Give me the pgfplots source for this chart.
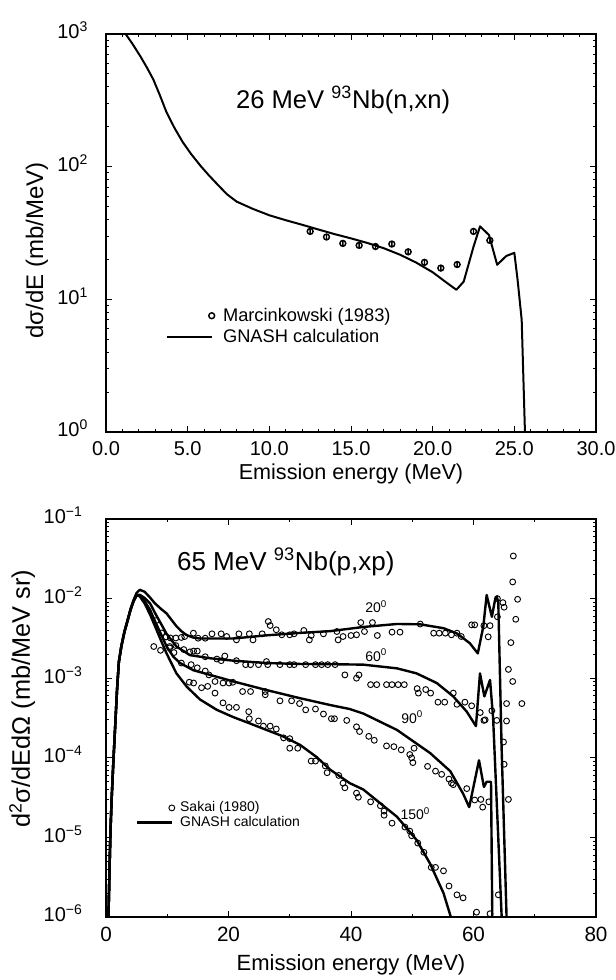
\documentclass[border=0pt]{standalone}
\usepackage{fontspec}
\setmainfont{Liberation Sans}
\usepackage{pgfplots}
\pgfplotsset{compat=1.18}

\newcommand{\fs}[1]{\fontsize{#1}{#1}\selectfont}

% open circle with a short vertical error bar inside
\pgfdeclareplotmark{obar}{%
  \pgfpathcircle{\pgfpointorigin}{\pgfplotmarksize}%
  \pgfpathmoveto{\pgfqpoint{0pt}{-0.8\pgfplotmarksize}}%
  \pgfpathlineto{\pgfqpoint{0pt}{0.8\pgfplotmarksize}}%
  \pgfusepathqstroke}

\begin{document}
\begin{tikzpicture}
\useasboundingbox (0,0) rectangle (462pt,735pt);

% ---------------- 26 MeV neutrons on Nb-93 ----------------
\begin{axis}[
  scale only axis, width=367.5pt, height=298.5pt,
  ymode=log,
  axis line style={line width=1.1pt},
  tick align=inside, xtick pos=both, ytick pos=both,
  major tick length=4.5pt, minor tick length=2.5pt,
  every tick/.style={black, line width=0.7pt},
  legend cell align=left,
  at={(79.5pt,411pt)}, anchor=south west,
  xmin=0, xmax=30, ymin=1, ymax=1000,
  xtick={0,5,10,15,20,25,30},
  xticklabels={0.0,5.0,10.0,15.0,20.0,25.0,30.0},
  minor x tick num=4,
  ytick={1,10,100,1000},
  yticklabels={10\textsuperscript{0},10\textsuperscript{1},10\textsuperscript{2},10\textsuperscript{3}},
  xticklabel style={font=\fs{15}, yshift=-3.5pt},
  yticklabel style={font=\fs{15}, anchor=base east, yshift=-0.36em, xshift=-10pt},
  xlabel={Emission energy (MeV)},
  xlabel style={font=\fs{16.2}, at={(axis description cs:0.5,0)}, anchor=center, yshift=-31.5pt},
  ylabel={dσ/dE (mb/MeV)},
  ylabel style={font=\fs{18}, at={(axis description cs:-0.141,0.456)}, anchor=center},
  legend style={draw=none, fill=none, font=\fs{13.7}, at={(rel axis cs:0.1213,0.3136)},
    anchor=north west, inner sep=0pt, row sep=3.3pt, column sep=4.75pt, nodes={inner sep=0.5pt}},
]
\addplot[only marks, mark=obar, mark size=2.2pt, mark options={line width=1.1pt},
  legend image code/.code={\path[draw=none, fill=none] (0pt,-3pt) rectangle (37pt,3pt);
    \draw[only marks, mark=o, mark size=2.2pt, mark options={line width=1.1pt}] plot coordinates {(33.75pt,0pt)};}]
coordinates {
  (12.5,32.5) (13.5,29.5) (14.5,26.4) (15.5,25.5) (16.5,25.0) (17.5,26.1)
  (18.5,22.8) (19.5,19.0) (20.5,17.2) (21.5,18.3) (22.5,32.5) (23.5,27.8)
};
\addlegendentry{Marcinkowski (1983)}

\addplot[line width=1.5pt, line join=round,
  legend image code/.code={\path[draw=none, fill=none] (0pt,-3pt) rectangle (37pt,3pt);
    \draw[line width=1.5pt] (0pt,0pt) -- (33.75pt,0pt);}]
coordinates {
  (1.2,1000) (1.6,850) (2.1,680) (2.5,560) (2.9,453) (3.3,345) (3.7,258)
  (4.2,195) (4.7,153) (5.2,125) (5.8,101) (6.3,86) (6.8,74) (7.4,62)
  (8.0,54.5) (9.0,48) (10.0,43) (11.0,39.5) (12.0,36.5) (13.0,33.6)
  (14.0,31.0) (15.0,28.8) (16.0,26.6) (17.0,24.3) (18.0,21.7) (19.0,18.9)
  (20.0,16.0) (20.8,13.5) (21.45,11.8) (21.9,13.6) (22.5,24.9) (22.9,35.5)
  (23.45,30.5) (23.95,18.2) (24.5,21.2) (25.0,22.4) (25.2,14) (25.45,7)
  (25.65,1)
};
\addlegendentry{GNASH calculation}

\node[font=\fs{19.2}] at (rel axis cs:0.484,0.834) {26 MeV \textsuperscript{93}Nb(n,xn)};
\end{axis}

% ---------------- 65 MeV protons on Nb-93 ----------------
\begin{axis}[
  scale only axis, width=367.5pt, height=298.5pt,
  ymode=log,
  axis line style={line width=1.1pt},
  tick align=inside, xtick pos=both, ytick pos=both,
  major tick length=4.5pt, minor tick length=2.5pt,
  every tick/.style={black, line width=0.7pt},
  legend cell align=left,
  at={(79.5pt,47.25pt)}, anchor=south west,
  xmin=0, xmax=80, ymin=1e-6, ymax=1e-1,
  xtick={0,20,40,60,80},
  xticklabels={0,20,40,60,80},
  minor x tick num=1,
  ytick={1e-6,1e-5,1e-4,1e-3,1e-2,1e-1},
  yticklabels={10\textsuperscript{−6},10\textsuperscript{−5},10\textsuperscript{−4},10\textsuperscript{−3},10\textsuperscript{−2},10\textsuperscript{−1}},
  xticklabel style={font=\fs{15.5}, yshift=-4pt},
  yticklabel style={font=\fs{15}, anchor=base east, yshift=-0.36em, xshift=-14pt},
  xlabel={Emission energy (MeV)},
  xlabel style={font=\fs{16.5}, at={(axis description cs:0.5,0)}, anchor=center, yshift=-36pt},
  ylabel={d\textsuperscript{2}σ/dEdΩ (mb/MeV sr)},
  ylabel style={font=\fs{19}, at={(axis description cs:-0.171,0.548)}, anchor=center},
  legend style={draw=none, fill=none, font=\fs{10.5}, at={(rel axis cs:0.0599,0.2917)},
    anchor=north west, inner sep=0pt, row sep=0.7pt, column sep=3pt, nodes={inner sep=0.5pt}},
]
\addplot[only marks, mark=o, mark size=2.2pt, mark options={line width=0.7pt},
  legend image code/.code={\path[draw=none, fill=none] (0pt,-3pt) rectangle (29pt,3pt);
    \draw[only marks, mark=o, mark size=2.2pt, mark options={line width=0.7pt}] plot coordinates {(26.25pt,0pt)};}]
table[row sep=\\] {
E y \\
8.2 5.3e-3 \\ 9.1 3.7e-3 \\ 9.8 3.3e-3 \\ 10.5 3.2e-3 \\ 11.4 3.2e-3 \\ 12.3 3.25e-3 \\
12.85 3.34e-3 \\ 14.27 3.68e-3 \\ 15.04 3.18e-3 \\ 16.2 3.18e-3 \\ 17.3 3.61e-3 \\
18.8 3.61e-3 \\ 19.7 3.34e-3 \\ 21.3 3.03e-3 \\ 21.7 3.61e-3 \\ 23.4 3.61e-3 \\
24.0 3.03e-3 \\ 25.5 3.61e-3 \\ 26.5 5.15e-3 \\ 26.8 4.59e-3 \\ 27.8 4.06e-3 \\
28.7 3.51e-3 \\ 30.0 3.51e-3 \\ 30.7 3.61e-3 \\ 32.3 3.98e-3 \\ 33.2 3.03e-3 \\
33.5 3.44e-3 \\ 35.5 3.61e-3 \\ 37.7 3.86e-3 \\ 37.9 3.03e-3 \\ 38.7 3.34e-3 \\
40.0 3.44e-3 \\ 40.9 3.51e-3 \\ 41.6 5.0e-3 \\ 42.2 3.86e-3 \\ 43.5 5.0e-3 \\
44.3 3.44e-3 \\ 46.7 3.79e-3 \\ 48.0 3.79e-3 \\ 51.3 4.79e-3 \\ 53.5 3.68e-3 \\
54.4 3.68e-3 \\ 55.4 3.68e-3 \\ 56.4 3.51e-3 \\ 57.3 3.68e-3 \\ 58.0 3.34e-3 \\
59.7 4.68e-3 \\ 60.2 4.68e-3 \\ 61.7 4.57e-3 \\ 62.4 3.31e-3 \\ 62.7 4.57e-3 \\
63.9 1.0e-2 \\ 63.9 5.9e-3 \\ 64.8 8.9e-3 \\ 65.0 7.8e-3 \\ 66.5 3.43e-2 \\
66.4 1.62e-2 \\ 67.2 9.8e-3 \\ 66.9 5.5e-3 \\ 66.1 2.8e-3 \\ 65.7 1.29e-3 \\
66.4 9.1e-4 \\ 65.4 4.8e-4 \\ 67.9 4.8e-4 \\ 65.4 2.9e-4 \\ 64.9 1.58e-4 \\
65.0 8.3e-5 \\ 65.7 3.0e-5 \\ 64.05 1.9e-6 \\
7.8 2.5e-3 \\ 8.9 2.24e-3 \\ 10.4 2.5e-3 \\ 11.4 2.57e-3 \\ 12.7 2.29e-3 \\
13.7 2.14e-3 \\ 14.3 2.19e-3 \\ 14.9 2.19e-3 \\ 16.2 1.86e-3 \\ 18.1 1.74e-3 \\
18.8 1.66e-3 \\ 19.4 1.9e-3 \\ 21.3 1.66e-3 \\ 22.8 1.48e-3 \\ 23.6 1.48e-3 \\
24.9 1.48e-3 \\ 26.2 1.62e-3 \\ 26.4 1.48e-3 \\ 28.4 1.48e-3 \\ 30.0 1.48e-3 \\
30.7 1.48e-3 \\ 32.6 1.48e-3 \\ 34.2 1.48e-3 \\ 35.2 1.48e-3 \\ 36.2 1.48e-3 \\
37.4 1.48e-3 \\ 39.0 1.1e-3 \\ 40.9 1.0e-3 \\ 41.3 1.1e-3 \\ 43.2 8.3e-4 \\
44.2 8.3e-4 \\ 45.8 8.3e-4 \\ 46.7 8.3e-4 \\ 47.7 8.3e-4 \\ 48.7 8.3e-4 \\
50.8 7.4e-4 \\ 51.0 6.5e-4 \\ 52.2 7.2e-4 \\ 53.0 6.5e-4 \\ 54.2 5.0e-4 \\
55.3 5.0e-4 \\ 56.7 6.5e-4 \\ 57.3 4.7e-4 \\ 58.6 5.0e-4 \\ 59.7 4.5e-4 \\
61.1 3.7e-4 \\ 61.9 3.0e-4 \\ 63.0 3.9e-4 \\ 63.8 2.95e-4 \\ 61.7 2.95e-4 \\
10.4 2.4e-3 \\ 11.1 2.1e-3 \\ 12.3 1.55e-3 \\ 13.9 1.48e-3 \\ 14.9 1.35e-3 \\
16.2 1.23e-3 \\ 16.8 1.1e-3 \\ 17.8 9.1e-4 \\ 19.1 8.7e-4 \\ 20.1 8.7e-4 \\
20.7 8.9e-4 \\ 22.3 6.8e-4 \\ 23.6 6.8e-4 \\ 26.0 6.8e-4 \\ 26.0 6.2e-4 \\
28.4 5.2e-4 \\ 30.3 5.2e-4 \\ 31.6 4.8e-4 \\ 32.6 4.0e-4 \\ 34.2 4.1e-4 \\
35.5 3.55e-4 \\ 36.8 3.1e-4 \\ 37.3 3.1e-4 \\ 39.3 2.95e-4 \\ 40.9 2.45e-4 \\
41.4 2.14e-4 \\ 42.9 1.86e-4 \\ 43.8 1.66e-4 \\ 45.8 1.41e-4 \\ 47.0 1.38e-4 \\
48.2 1.26e-4 \\ 49.6 1.1e-4 \\ 49.9 1.0e-4 \\ 50.3 1.32e-4 \\ 50.1 8.7e-5 \\
52.5 7.8e-5 \\ 53.8 6.8e-5 \\ 54.8 6.2e-5 \\ 56.0 5.4e-5 \\ 56.4 4.8e-5 \\
56.7 4.6e-5 \\ 58.9 4.1e-5 \\ 60.2 2.95e-5 \\ 61.2 3.0e-5 \\ 61.5 2.4e-5 \\
62.5 2.8e-5 \\
13.6 8.9e-4 \\ 14.3 8.7e-4 \\ 15.6 7.6e-4 \\ 16.6 7.9e-4 \\ 17.8 6.5e-4 \\
19.1 4.9e-4 \\ 20.1 4.3e-4 \\ 21.3 4.3e-4 \\ 23.3 3.8e-4 \\ 23.4 3.1e-4 \\
24.9 2.9e-4 \\ 25.7 2.5e-4 \\ 26.8 2.5e-4 \\ 27.8 2.3e-4 \\ 29.0 1.78e-4 \\
30.0 1.74e-4 \\ 30.0 1.32e-4 \\ 31.3 1.32e-4 \\ 33.5 9.1e-5 \\ 34.2 9.1e-5 \\
35.8 7.9e-5 \\ 36.1 6.5e-5 \\ 38.0 6.0e-5 \\ 38.7 4.8e-5 \\ 39.0 4.2e-5 \\
40.9 3.6e-5 \\ 41.2 3.2e-5 \\ 43.2 2.8e-5 \\ 44.8 2.5e-5 \\ 45.4 2.14e-5 \\
45.4 1.9e-5 \\ 46.7 1.51e-5 \\ 48.8 1.35e-5 \\ 49.6 1.2e-5 \\ 49.9 1.05e-5 \\
50.9 8.5e-6 \\ 51.9 6.5e-6 \\ 53.1 4.2e-6 \\ 53.8 4.2e-6 \\ 55.1 3.8e-6 \\
56.0 2.45e-6 \\ 57.3 1.9e-6 \\ 58.3 1.74e-6 \\ 60.5 1.15e-6 \\ 62.7 1.1e-6 \\
};
\addlegendentry{Sakai (1980)}

% 20 degrees
\addplot[line width=1.8pt, line join=round,
  legend image code/.code={\path[draw=none, fill=none] (0pt,-3pt) rectangle (29pt,3pt);
    \draw[line width=1.8pt] (0pt,0pt) -- (26.25pt,0pt);}]
coordinates {
  (0.4,1e-6) (0.55,3.2e-6) (0.7,1e-5) (0.9,2.8e-5) (1.2,8.9e-5) (1.5,2.5e-4)
  (1.8,7.1e-4) (2.1,1.6e-3) (2.5,2.5e-3) (3.0,3.8e-3) (3.5,5.3e-3) (4.0,7.4e-3)
  (4.5,9.6e-3) (5.0,1.18e-2) (5.5,1.29e-2) (6.3,1.22e-2) (7.1,1.05e-2) (8.0,8.7e-3)
  (9.0,7.4e-3) (9.9,6.5e-3) (10.7,5.4e-3) (11.5,4.5e-3) (12.3,3.9e-3) (13.1,3.5e-3)
  (14.2,3.25e-3) (15.3,3.15e-3) (18.0,3.15e-3) (20.7,3.15e-3) (23.5,3.3e-3)
  (26.1,3.45e-3) (31.5,3.7e-3) (36.6,3.9e-3) (42.0,4.4e-3) (47.5,4.8e-3)
  (51.3,4.75e-3) (55.1,4.25e-3) (57.3,3.65e-3) (59.4,2.75e-3) (60.7,2.05e-3)
  (61.6,4.45e-3) (62.15,1.11e-2) (63.0,5.9e-3) (63.5,9.5e-3) (63.8,1.06e-2)
  (64.05,8.9e-3) (64.6,1.26e-4) (65.4,1e-6)
};
\addlegendentry{GNASH calculation}

% 60 degrees
\addplot[line width=1.8pt, line join=round, forget plot]
coordinates {
  (0.4,1e-6) (0.55,3.2e-6) (0.7,1e-5) (0.9,2.8e-5) (1.2,8.9e-5) (1.5,2.5e-4)
  (1.8,7.1e-4) (2.1,1.6e-3) (2.5,2.5e-3) (3.0,3.8e-3) (3.5,5.2e-3) (4.0,7.2e-3)
  (4.5,9.3e-3) (5.0,1.1e-2) (5.5,1.12e-2) (6.3,1.02e-2) (7.2,8.7e-3) (8.0,6.6e-3)
  (9.0,4.8e-3) (9.9,3.6e-3) (11.5,2.5e-3) (13.7,1.95e-3) (17.0,1.78e-3)
  (20.8,1.66e-3) (26.2,1.55e-3) (31.7,1.51e-3) (36.6,1.5e-3) (42.0,1.48e-3)
  (47.5,1.33e-3) (50.7,1.15e-3) (54.0,8.7e-4) (56.7,5.9e-4) (58.9,3.8e-4)
  (60.4,2.5e-4) (61.06,1.15e-3) (61.77,5.9e-4) (62.7,9.5e-4) (63.2,3.2e-4)
  (64.6,1e-6)
};

% 90 degrees
\addplot[line width=1.8pt, line join=round, forget plot]
coordinates {
  (0.4,1e-6) (0.55,3.2e-6) (0.7,1e-5) (0.9,2.8e-5) (1.2,8.9e-5) (1.5,2.5e-4)
  (1.8,7.1e-4) (2.1,1.6e-3) (2.5,2.5e-3) (3.0,3.8e-3) (3.5,5.2e-3) (4.0,7.2e-3)
  (4.5,9.3e-3) (5.0,1.1e-2) (5.5,1.09e-2) (6.3,9.3e-3) (7.2,7.2e-3) (8.0,5.2e-3)
  (9.0,3.55e-3) (9.9,2.5e-3) (11.0,1.86e-3) (12.1,1.55e-3) (14.25,1.26e-3)
  (17.0,1.1e-3) (20.8,9.1e-4) (26.2,7.1e-4) (31.7,5.6e-4) (36.6,4.6e-4)
  (39.8,4.1e-4) (42.0,3.6e-4) (47.5,2.24e-4) (52.9,1.15e-4) (56.2,6.8e-5)
  (58.3,3.55e-5) (59.3,2.4e-5) (60.9,9.3e-5) (61.7,4.3e-5) (62.15,5.0e-5)
  (62.86,5.0e-5) (63.07,1e-6)
};

% 150 degrees
\addplot[line width=1.8pt, line join=round, forget plot]
coordinates {
  (0.4,1e-6) (0.55,3.2e-6) (0.7,1e-5) (0.9,2.8e-5) (1.2,8.9e-5) (1.5,2.5e-4)
  (1.8,7.1e-4) (2.1,1.6e-3) (2.5,2.5e-3) (3.0,3.8e-3) (3.5,5.2e-3) (4.0,7.2e-3)
  (4.5,9.3e-3) (5.0,1.1e-2) (5.5,1.07e-2) (6.3,8.7e-3) (7.2,6.3e-3) (8.0,4.5e-3)
  (9.0,2.95e-3) (9.9,2.04e-3) (11.5,1.15e-3) (13.2,7.8e-4) (15.35,5.4e-4)
  (18.1,4.0e-4) (20.8,3.24e-4) (23.5,2.7e-4) (26.2,2.24e-4) (28.9,1.86e-4)
  (31.7,1.45e-4) (34.4,1.02e-4) (36.6,7.1e-5) (39.8,4.8e-5) (42.0,4.0e-5)
  (45.0,2.6e-5) (47.5,1.82e-5) (50.7,9.3e-6) (52.9,4.7e-6) (55.1,2.0e-6)
  (56.3,1.0e-6)
};

\node[font=\fs{19.5}] at (rel axis cs:0.367,0.893) {65 MeV \textsuperscript{93}Nb(p,xp)};
\node[font=\fs{10.5}] at (axis cs:44.1,7.9e-3) {20\textsuperscript{0}};
\node[font=\fs{10.5}] at (axis cs:44.1,1.95e-3) {60\textsuperscript{0}};
\node[font=\fs{10.5}] at (axis cs:50.0,3.25e-4) {90\textsuperscript{0}};
\node[font=\fs{10.5}] at (axis cs:50.5,2.0e-5) {150\textsuperscript{0}};
\end{axis}
\end{tikzpicture}
\end{document}
